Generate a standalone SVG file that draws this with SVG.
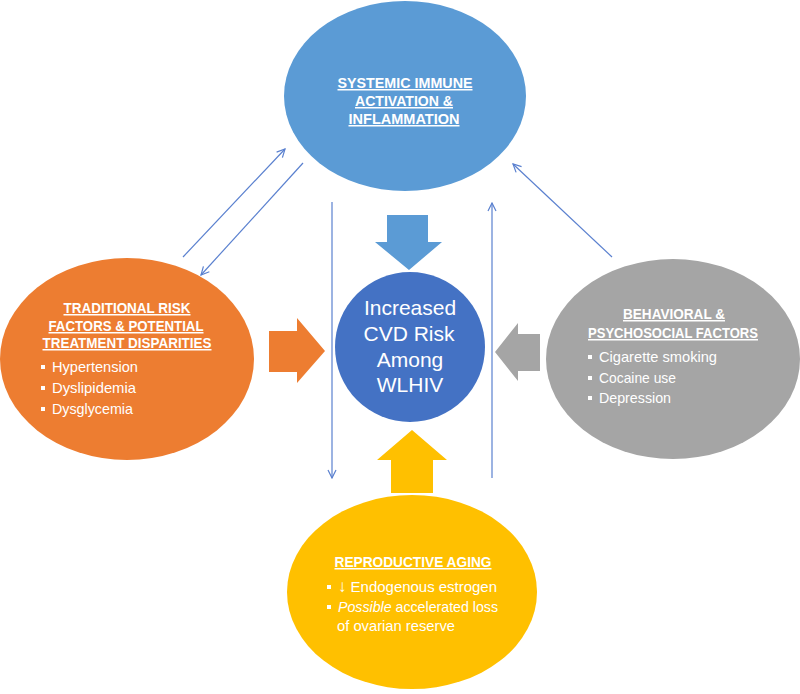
<svg xmlns="http://www.w3.org/2000/svg" width="800" height="694" viewBox="0 0 800 694">
<defs>
<style>
.title{font-family:"Liberation Sans",Arial,sans-serif;font-weight:bold;font-size:15px;fill:#fff;text-decoration:underline;text-anchor:middle}
.item{font-family:"Liberation Sans",Arial,sans-serif;font-size:15px;fill:#fff}
.center{font-family:"Liberation Sans",Arial,sans-serif;font-size:21px;fill:#fff;text-anchor:middle}
.bul{fill:#fff}
.conn{stroke:#5A80CF;stroke-width:1.2;fill:none;marker-end:url(#arr)}
</style>
<marker id="arr" viewBox="0 0 10 10" refX="9" refY="5" markerWidth="10" markerHeight="10" markerUnits="userSpaceOnUse" orient="auto">
<path d="M1,1 L9,5 L1,9" fill="none" stroke="#5A80CF" stroke-width="1.2"/>
</marker>
</defs>
<rect width="800" height="694" fill="#fff"/>

<g id="connectors">
<line class="conn" x1="183" y1="257" x2="285" y2="149"/>
<line class="conn" x1="303" y1="163" x2="201" y2="275"/>
<line class="conn" x1="612" y1="257" x2="513" y2="164"/>
<line class="conn" x1="332" y1="202" x2="332" y2="478"/>
<line class="conn" x1="492" y1="478" x2="492" y2="203"/>
<polygon id="arrow-top" points="387,215 428,215 428,242 442,242 409,270 375,242 387,242" fill="#5B9BD5"/>
<polygon id="arrow-bottom" points="412,430 447,460 433,460 433,493 391,493 391,460 377,460" fill="#FFC000"/>
<polygon id="arrow-left" points="269,331 297,331 297,318 325,351 297,383 297,372 269,372" fill="#ED7D31"/>
<polygon id="arrow-right" points="495,352 518,323 518,334 540,334 540,371 518,371 518,381" fill="#A5A5A5"/>
</g>

<g id="node-immune">
<ellipse cx="405" cy="96" rx="121" ry="95" fill="#5B9BD5"/>
<text class="title" x="405" y="88" textLength="135" lengthAdjust="spacingAndGlyphs">SYSTEMIC IMMUNE</text>
<text class="title" x="404" y="106" textLength="98" lengthAdjust="spacingAndGlyphs">ACTIVATION &amp;</text>
<text class="title" x="404" y="124" textLength="111" lengthAdjust="spacingAndGlyphs">INFLAMMATION</text>
</g>

<g id="node-traditional">
<ellipse cx="127" cy="359" rx="127" ry="101" fill="#ED7D31"/>
<text class="title" x="127" y="313" textLength="127" lengthAdjust="spacingAndGlyphs">TRADITIONAL RISK</text>
<text class="title" x="126" y="331" textLength="155" lengthAdjust="spacingAndGlyphs">FACTORS &amp; POTENTIAL</text>
<text class="title" x="127" y="348" textLength="169" lengthAdjust="spacingAndGlyphs">TREATMENT DISPARITIES</text>
<rect class="bul" x="41" y="365" width="4" height="4"/>
<rect class="bul" x="41" y="386" width="4" height="4"/>
<rect class="bul" x="41" y="407" width="4" height="4"/>
<text class="item" x="52" y="372" textLength="86" lengthAdjust="spacingAndGlyphs">Hypertension</text>
<text class="item" x="52" y="393" textLength="84" lengthAdjust="spacingAndGlyphs">Dyslipidemia</text>
<text class="item" x="52" y="414" textLength="81" lengthAdjust="spacingAndGlyphs">Dysglycemia</text>
</g>

<g id="node-behavioral">
<ellipse cx="673" cy="359" rx="127" ry="100" fill="#A5A5A5"/>
<text class="title" x="674" y="319" textLength="102" lengthAdjust="spacingAndGlyphs">BEHAVIORAL &amp;</text>
<text class="title" x="673" y="338" textLength="170" lengthAdjust="spacingAndGlyphs">PSYCHOSOCIAL FACTORS</text>
<rect class="bul" x="588" y="355" width="4" height="4"/>
<rect class="bul" x="588" y="376" width="4" height="4"/>
<rect class="bul" x="588" y="396" width="4" height="4"/>
<text class="item" x="599" y="362" textLength="118" lengthAdjust="spacingAndGlyphs">Cigarette smoking</text>
<text class="item" x="599" y="383" textLength="77" lengthAdjust="spacingAndGlyphs">Cocaine use</text>
<text class="item" x="599" y="403" textLength="72" lengthAdjust="spacingAndGlyphs">Depression</text>
</g>

<g id="node-reproductive">
<ellipse cx="412" cy="592" rx="125" ry="97" fill="#FFC000"/>
<text class="title" x="413" y="567" textLength="157" lengthAdjust="spacingAndGlyphs">REPRODUCTIVE AGING</text>
<rect class="bul" x="327" y="585" width="4" height="4"/>
<rect class="bul" x="327" y="605" width="4" height="4"/>
<text class="item" x="338" y="592" textLength="159" lengthAdjust="spacingAndGlyphs"><tspan font-size="17">↓</tspan> Endogenous estrogen</text>
<text class="item" x="338" y="612" textLength="160" lengthAdjust="spacingAndGlyphs"><tspan font-style="italic">Possible</tspan> accelerated loss</text>
<text class="item" x="337" y="631" textLength="118" lengthAdjust="spacingAndGlyphs">of ovarian reserve</text>
</g>

<g id="node-center">
<circle cx="410" cy="347" r="75" fill="#4472C4"/>
<text class="center" x="410" y="315">Increased</text>
<text class="center" x="409" y="341">CVD Risk</text>
<text class="center" x="410" y="367">Among</text>
<text class="center" x="410" y="392">WLHIV</text>
</g>
</svg>
